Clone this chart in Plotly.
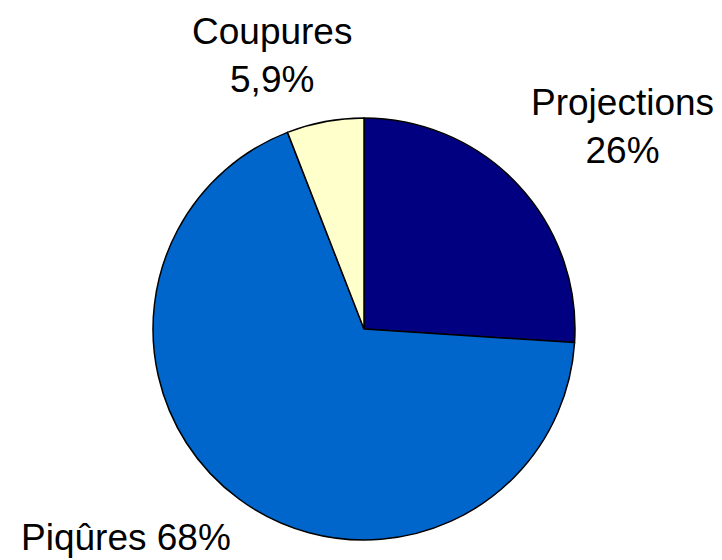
import plotly.graph_objects as go

categories = ["Projections", "Piqûres", "Coupures"]
values = [26, 68, 5.9]
colors = ["#000080", "#0066CC", "#FFFFCC"]
label_seps = ["<br>", " ", "<br>"]

W, H = 722, 560
cx, cy, r = 364, 329, 211

fig = go.Figure(go.Pie(
    labels=categories,
    values=values,
    sort=False,
    direction="clockwise",
    rotation=0,
    textinfo="none",
    hoverinfo="label+percent",
    marker=dict(colors=colors, line=dict(color="black", width=1.5)),
    domain=dict(x=[(cx - r) / W, (cx + r) / W], y=[(H - cy - r) / H, (H - cy + r) / H]),
    showlegend=False,
))

def fmt(v):
    s = ("%g" % v).replace(".", ",")
    return s + "%"

label_pos = [(622, 127), (126, 537), (272, 56)]
for cat, v, sep, (x, y) in zip(categories, values, label_seps, label_pos):
    fig.add_annotation(
        text=cat + sep + fmt(v),
        x=x / W, y=1 - y / H, xref="paper", yref="paper",
        xanchor="center", yanchor="middle", showarrow=False,
        font=dict(family="Liberation Sans, Arial", size=37, color="black"),
    )

fig.update_layout(
    width=W, height=H,
    margin=dict(l=0, r=0, t=0, b=0),
    paper_bgcolor="white", plot_bgcolor="white",
)
fig.write_html(
    "out.html",
    config={"displayModeBar": False},
    post_script="document.body.style.margin='0';document.body.style.overflow='hidden';",
)
